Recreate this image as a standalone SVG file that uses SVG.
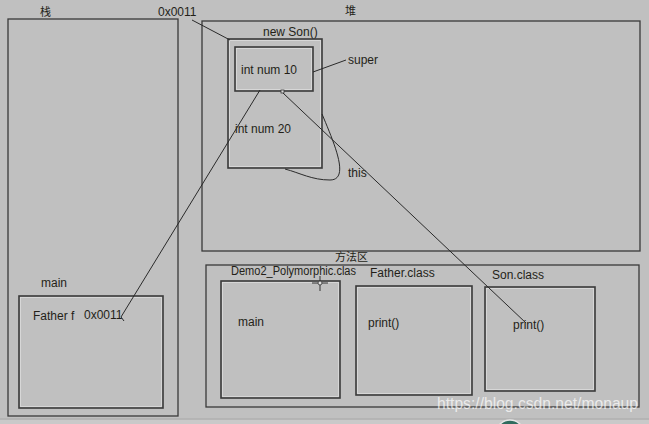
<svg xmlns="http://www.w3.org/2000/svg" width="649" height="424" viewBox="0 0 649 424">
<style>
.bg{fill:#c0c0c0}
.area{fill:none;stroke:#3a3a3a;stroke-width:1.3}
.box{fill:none;stroke:#3a3a3a;stroke-width:1.6}
.hl{fill:none;stroke:#dcdcdc;stroke-width:0.8}
text{font-family:"Liberation Sans",Arial,sans-serif;font-size:12px;fill:#241f18}
.cjk{font-family:"Noto Sans CJK SC","Liberation Sans",sans-serif;font-size:11px}
.conn{fill:none;stroke:#2a2a2a;stroke-width:1}
.wm{font-size:17px;fill:#ffffff;fill-opacity:0.7}
</style>
<rect class="bg" x="0" y="0" width="649" height="424"/>
<line x1="0" y1="419" x2="649" y2="419" stroke="#a9a9a9" stroke-width="1"/>
<rect x="0" y="420" width="649" height="4" fill="#c9c9c9"/>

<g id="stack">
  <rect class="area" x="8" y="19" width="170" height="397"/>
  <text class="cjk" x="40" y="16">栈</text>
</g>
<g id="stack-main">
  <text x="41" y="287">main</text>
  <rect class="box" x="19" y="296" width="144" height="112"/>
  <rect class="hl" x="20.5" y="297.5" width="141" height="109"/>
  <text x="33" y="320">Father f</text>
  <text x="84" y="319">0x0011</text>
</g>

<g id="heap">
  <rect class="area" x="202" y="21" width="438" height="230"/>
  <text class="cjk" x="345" y="15">堆</text>
  <text x="158" y="16">0x0011</text>
</g>
<g id="new-son">
  <text x="263" y="36">new Son()</text>
  <rect class="box" x="228" y="39" width="94" height="129"/>
  <rect class="hl" x="229.5" y="40.5" width="91" height="126"/>
  <text x="235" y="133">int num 20</text>
</g>
<g id="super-part">
  <rect class="box" x="235" y="47" width="78" height="44"/>
  <rect class="hl" x="236.5" y="48.5" width="75" height="41"/>
  <text x="241" y="74">int num 10</text>
  <rect x="281" y="90" width="3" height="3" fill="#d8d8d8" stroke="#3a3a3a" stroke-width="0.8"/>
</g>
<g id="labels">
  <text x="348" y="64">super</text>
  <text x="348" y="177">this</text>
</g>

<g id="method-area">
  <rect class="area" x="206" y="265" width="433" height="142"/>
  <text class="cjk" x="335" y="261">方法区</text>
</g>
<g id="demo2-class">
  <text x="231" y="275" textLength="125" lengthAdjust="spacingAndGlyphs">Demo2_Polymorphic.clas</text>
  <rect class="box" x="221" y="281" width="119" height="117"/>
  <rect class="hl" x="222.5" y="282.5" width="116" height="114"/>
  <text x="238" y="326">main</text>
</g>
<g id="father-class">
  <text x="370" y="277">Father.class</text>
  <rect class="box" x="356" y="286" width="116" height="109"/>
  <rect class="hl" x="357.5" y="287.5" width="113" height="106"/>
  <text x="368" y="327">print()</text>
</g>
<g id="son-class">
  <text x="492" y="279">Son.class</text>
  <rect class="box" x="485" y="287" width="110" height="104"/>
  <rect class="hl" x="486.5" y="288.5" width="107" height="101"/>
  <text x="513" y="329">print()</text>
</g>

<g id="connectors">
  <line class="conn" x1="192" y1="20" x2="230" y2="40"/>
  <line class="conn" x1="313" y1="72" x2="346" y2="60"/>
  <path class="conn" d="M322,114 C335,145 350,180 330,180 C312,180 300,173 285,169"/>
  <polyline class="conn" points="260,90 121,317 124,321"/>
  <line class="conn" x1="283" y1="93" x2="526" y2="323"/>
</g>

<g id="cursor">
  <line x1="320" y1="276" x2="320" y2="291" stroke="#333" stroke-width="1"/>
  <line x1="312" y1="283" x2="328" y2="283" stroke="#333" stroke-width="1"/>
  <circle cx="320" cy="283" r="2" fill="#e0e0e0" stroke="#333" stroke-width="0.8"/>
</g>

<g id="watermark">
  <text class="wm" x="437" y="409" textLength="201" lengthAdjust="spacingAndGlyphs">https://blog.csdn.net/monaup</text>
  <circle cx="510" cy="434" r="14" fill="#2f6b5e" stroke="#e6e6e6" stroke-width="1.5"/>
</g>
</svg>
